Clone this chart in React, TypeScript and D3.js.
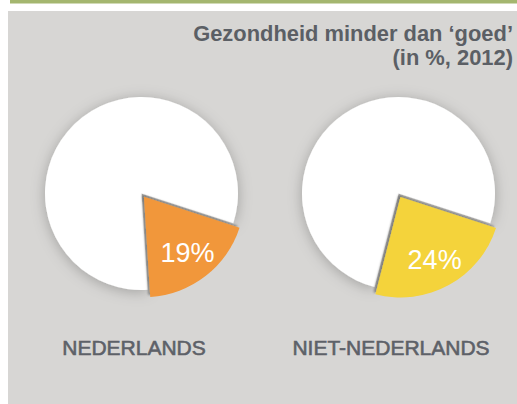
import React from 'react';
import * as d3 from 'd3';

const categories = ['NEDERLANDS', 'NIET-NEDERLANDS'];
const values = [19, 24];
const sliceColors = ['#f1973a', '#f4d33a'];
const titleLines = ['Gezondheid minder dan ‘goed’', '(in %, 2012)'];

const W = 517;
const H = 404;

export default function App() {
  const x = d3.scaleBand<string>().domain(categories).range([13, 527]).padding(0);
  const cy = 193.5;
  const r = 96.5;
  const pie = d3
    .pie<number>()
    .sort(null)
    .value((d) => d)
    .startAngle(0.3 * 2 * Math.PI)
    .endAngle(1.3 * 2 * Math.PI);
  const arcWhite = d3.arc<d3.PieArcDatum<number>>().innerRadius(0).outerRadius(r);
  const arcColor = d3.arc<d3.PieArcDatum<number>>().innerRadius(0).outerRadius(r + 4);
  const font = "'Liberation Sans', Arial, Helvetica, sans-serif";

  return (
    <svg width={W} height={H} style={{ position: 'fixed', left: 0, top: 0 }}>
      <defs>
        <filter id="pieShadow" x="-30%" y="-30%" width="160%" height="160%">
          <feDropShadow dx="0" dy="2" stdDeviation="7" floodColor="#000" floodOpacity="0.25" />
        </filter>
        <filter id="sliceShadow" x="-30%" y="-30%" width="160%" height="160%">
          <feDropShadow dx="-2" dy="-2" stdDeviation="1" floodColor="#000" floodOpacity="0.35" />
        </filter>
      </defs>
      <rect x={0} y={0} width={W} height={H} fill="#ffffff" />
      <rect x={10} y={0} width={W - 10} height={3.5} fill="#a4b66f" />
      <rect x={8} y={11} width={W - 8} height={H - 11} fill="#d7d6d4" />
      {titleLines.map((t, i) => (
        <text
          key={t}
          x={513}
          y={41 + i * 24}
          textAnchor="end"
          fontFamily={font}
          fontWeight="bold"
          fontSize={21.9}
          fill="#5b5f65"
        >
          {t}
        </text>
      ))}
      {categories.map((c, i) => {
        const cx = (x(c) as number) + x.bandwidth() / 2;
        const arcs = pie([values[i], 100 - values[i]]);
        const slice = arcs[0];
        const rest = arcs[1];
        const mid = (slice.startAngle + slice.endAngle) / 2;
        const off = 4;
        const ox = Math.sin(mid) * off;
        const oy = -Math.cos(mid) * off;
        const lr = 75;
        const lx = Math.sin(mid) * lr;
        const ly = -Math.cos(mid) * lr;
        return (
          <g key={c}>
            <g transform={`translate(${cx},${cy})`}>
              <path d={arcWhite(rest) || ''} fill="#ffffff" filter="url(#pieShadow)" />
              <path
                d={arcColor(slice) || ''}
                transform={`translate(${ox},${oy})`}
                fill={sliceColors[i]}
                filter="url(#sliceShadow)"
              />
              <text
                x={lx}
                y={ly}
                dy="0.35em"
                textAnchor="middle"
                fontFamily={font}
                fontSize={27}
                fill="#ffffff"
              >
                {values[i]}%
              </text>
            </g>
            <text
              x={cx - 7.5}
              y={355}
              textAnchor="middle"
              fontFamily={font}
              fontSize={21}
              fill="#5d6168"
              stroke="#5d6168"
              strokeWidth={0.6}
            >
              {c}
            </text>
          </g>
        );
      })}
    </svg>
  );
}
